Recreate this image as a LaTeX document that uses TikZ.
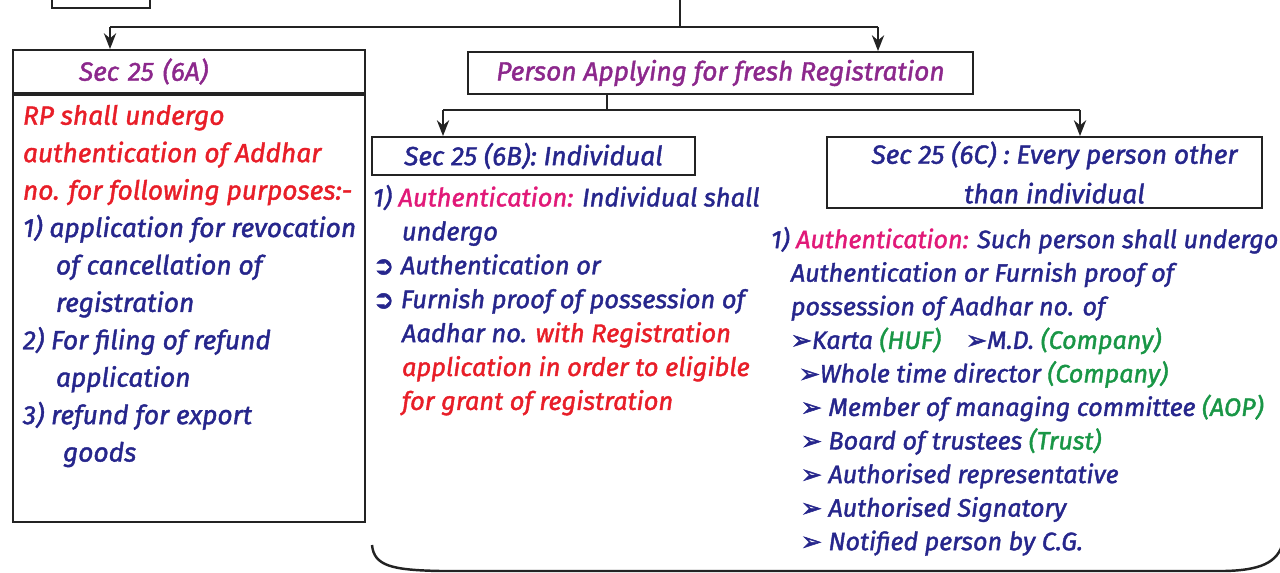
\documentclass[tikz,border=0pt]{standalone}
\usepackage{fontspec}
\setmainfont{Fira Sans}[ItalicFeatures={FakeBold=1.6}]
\newfontfamily\symfont{DejaVu Sans}[FakeBold=2]
\usetikzlibrary{shapes,positioning,arrows,arrows.meta,calc}
\usepackage{xcolor}

\definecolor{navy}{RGB}{38,38,140}
\definecolor{rd}{RGB}{232,30,40}
\definecolor{pk}{RGB}{225,25,120}
\definecolor{purp}{RGB}{140,40,140}
\definecolor{grn}{RGB}{25,150,70}
\definecolor{boxc}{RGB}{35,35,35}

\newcommand{\hook}{{\symfont ➲}}
\newcommand{\tip}{{\symfont ➢}}
\newcommand{\grp}[1]{\textcolor{grn}{(#1)}}

\tikzset{
  box/.style={draw=boxc, line width=1.1pt, inner sep=0pt},
  txt/.style={align=left, inner sep=0pt, anchor=north west, text=navy},
}

\begin{document}
\begin{tikzpicture}[x=0.02cm, y=-0.02cm, font=\fontsize{15}{21}\selectfont\itshape]
          \useasboundingbox (0,0) rectangle (1280,573);
          \clip (0,0) rectangle (1280,573);
          \begin{scope}[>={Stealth[length=9pt,width=7pt]}, line width=1.1pt, draw=boxc]
            % top row
            \node (t0) at (101,-12) [box, minimum width=1.96cm, minimum height=0.8cm]{};
            \coordinate (c0) at (680,0);
            \coordinate (j0) at (680,27);
            \coordinate (k1) at (110,27);
            \coordinate (k2) at (878,27);

            \node (a) at (189,71.5) [box, minimum width=7.04cm, minimum height=0.86cm, text width=6.8cm, align=left]{\hspace*{1.2cm}\textcolor{purp}{Sec 25 (6A)}};
            \node (ab) [box, anchor=north, minimum width=7.04cm, minimum height=8.54cm] at (a.south){};
            \node (p) at (720.5,73) [box, minimum width=10.1cm, minimum height=0.84cm]{\textcolor{purp}{Person Applying for fresh Registration}};

            % second row
            \coordinate (j1) at (607,110);
            \coordinate (j2) at (443,110);
            \coordinate (j3) at (1080,110);
            \node (b) at (533.5,156) [box, minimum width=6.46cm, minimum height=0.76cm]{\textcolor{navy}{Sec 25 (6B): Individual}};
            \node (c) at (1044.5,172.5) [box, minimum width=8.7cm, minimum height=1.42cm, align=center, text=navy, font=\fontsize{15}{22.5}\selectfont\itshape]{\hspace*{0.4cm}Sec 25 (6C) : Every person other\\ \hspace*{0.4cm}than individual};

            \draw (c0) -- (j0);
            \draw (k1) -- (k2);
            \draw[->] (k1) -- (a.north -| k1);
            \draw[->] (k2) -- (p.north -| k2);
            \draw (p.south -| j1) -- (j1);
            \draw (j2) -- (j3);
            \draw[->] (j2) -- (b.north -| j2);
            \draw[->] (j3) -- (c.north -| j3);

            % texts
            \node (at) at (22,104) [txt, font=\fontsize{15}{21.3}\selectfont\itshape]{%
              \textcolor{rd}{RP shall undergo}\\
              \textcolor{rd}{authentication of Addhar}\\
              \textcolor{rd}{no. for following purposes:-}\\
              1) application for revocation\\
              \hspace*{0.66cm}of cancellation of\\
              \hspace*{0.66cm}registration\\
              2) For filing of refund\\
              \hspace*{0.66cm}application\\
              3) refund for export\\
              \hspace*{0.8cm}goods};

            \node (bt) at (372,184) [txt, font=\fontsize{14.5}{19.3}\selectfont\itshape]{%
              1) \textcolor{pk}{Authentication:} Individual shall\\
              \hspace*{0.58cm}undergo\\
              \hook\ Authentication or\\
              \hook\ Furnish proof of possession of\\
              \hspace*{0.58cm}Aadhar no. \textcolor{rd}{with Registration}\\
              \hspace*{0.58cm}\textcolor{rd}{application in order to eligible}\\
              \hspace*{0.58cm}\textcolor{rd}{for grant of registration}};

            \node (ct) at (770,226) [txt, font=\fontsize{14.3}{19.1}\selectfont\itshape]{%
              1) \textcolor{pk}{Authentication:} Such person shall undergo\\
              \hspace*{0.4cm}Authentication or Furnish proof of\\
              \hspace*{0.4cm}possession of Aadhar no. of\\
              \hspace*{0.4cm}\tip Karta \grp{HUF}\quad \tip M.D. \grp{Company}\\
              \hspace*{0.56cm}\tip Whole time director \grp{Company}\\
              \hspace*{0.6cm}\tip\ Member of managing committee \grp{AOP}\\
              \hspace*{0.6cm}\tip\ Board of trustees \grp{Trust}\\
              \hspace*{0.6cm}\tip\ Authorised representative\\
              \hspace*{0.6cm}\tip\ Authorised Signatory\\
              \hspace*{0.6cm}\tip\ Notified person by C.G.};

            % bottom brace
            \draw[line width=1.4pt] (372,545) .. controls (374,566) and (392,570) .. (440,571) -- (1225,571) .. controls (1266,570) and (1280,560) .. (1284,538);
          \end{scope}
          \end{tikzpicture}
\end{document}
